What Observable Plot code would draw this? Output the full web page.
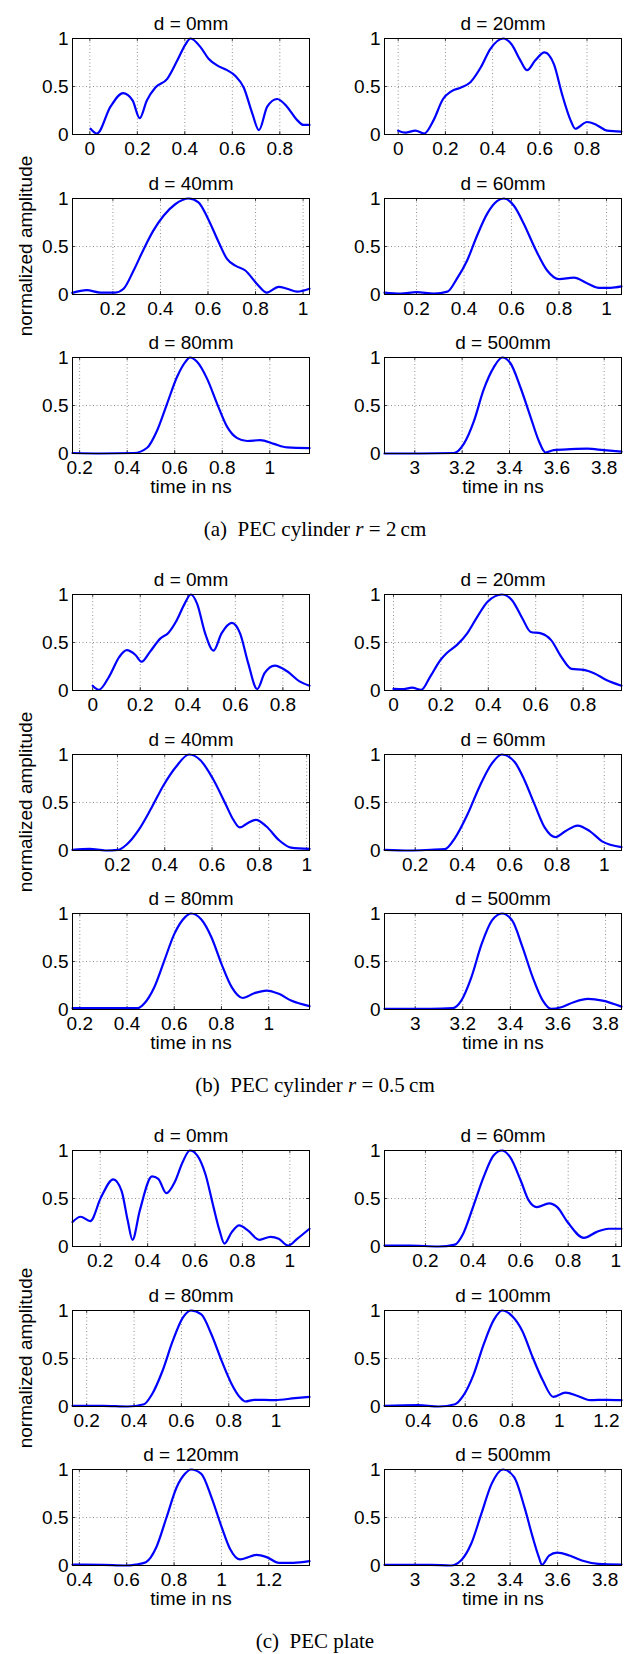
<!DOCTYPE html>
<html><head><meta charset="utf-8">
<script src="https://cdn.jsdelivr.net/npm/d3@7"></script>
<script src="https://cdn.jsdelivr.net/npm/@observablehq/plot@0.6"></script>
<style>
body{margin:0;background:#fff;}
#page{position:relative;width:642px;height:1654px;overflow:hidden;background:#fff;font-family:"Liberation Sans",Arial,Helvetica,sans-serif;color:#000;}
.panel{position:absolute;}
.ylab{position:absolute;white-space:nowrap;font-size:19px;transform:translate(-50%,-50%) rotate(-90deg);}
.cap{position:absolute;left:0;width:630px;text-align:center;font-family:"Liberation Serif","Times New Roman",serif;font-size:21px;transform:translateY(-50%);white-space:nowrap;}
</style></head><body><div id="page"></div>
<script>
// ---------- data (time in ns, normalized amplitude) ----------
const ticksFrom0  = [0, 0.2, 0.4, 0.6, 0.8];
const ticksFrom02 = [0.2, 0.4, 0.6, 0.8, 1];
const ticksFrom04 = [0.4, 0.6, 0.8, 1, 1.2];
const ticksFrom3  = [3, 3.2, 3.4, 3.6, 3.8];
const yTicks = [0, 0.5, 1];

const captions = ["(a)", "(b)", "(c)"];
const titlesA = ["d = 0mm", "d = 20mm", "d = 40mm", "d = 60mm", "d = 80mm", "d = 500mm"];
const titlesB = ["d = 0mm", "d = 20mm", "d = 40mm", "d = 60mm", "d = 80mm", "d = 500mm"];
const titlesC = ["d = 0mm", "d = 60mm", "d = 80mm", "d = 100mm", "d = 120mm", "d = 500mm"];

const domainsA = [[-0.073, 0.925], [-0.058, 0.946], [0.03, 1.027], [0.065, 1.063], [0.17, 1.167], [2.872, 3.873]];
const domainsB = [[-0.085, 0.912], [-0.038, 0.962], [0.01, 1.012], [0.07, 1.073], [0.169, 1.173], [2.871, 3.867]];
const domainsC = [[0.083, 1.083], [0.028, 1.024], [0.14, 1.141], [0.257, 1.264], [0.371, 1.372], [2.871, 3.869]];

const ticksA = [ticksFrom0, ticksFrom0, ticksFrom02, ticksFrom02, ticksFrom02, ticksFrom3];
const ticksB = [ticksFrom0, ticksFrom0, ticksFrom02, ticksFrom02, ticksFrom02, ticksFrom3];
const ticksC = [ticksFrom02, ticksFrom02, ticksFrom02, ticksFrom04, ticksFrom04, ticksFrom3];

// (a) PEC cylinder r = 2 cm
const a_d0 = [[0.003,0.06],[0.03,0.01],[0.087,0.29],[0.14,0.43],[0.18,0.355],[0.21,0.17],[0.24,0.355],[0.276,0.49],[0.326,0.58],[0.368,0.77],[0.403,0.94],[0.424,1],[0.466,0.91],[0.50,0.79],[0.536,0.72],[0.578,0.67],[0.613,0.61],[0.648,0.49],[0.684,0.22],[0.712,0.045],[0.747,0.29],[0.789,0.37],[0.83,0.29],[0.873,0.15],[0.90,0.10],[0.925,0.10]];
const a_d20 = [[0,0.04],[0.03,0.02],[0.073,0.04],[0.11,0.01],[0.15,0.15],[0.19,0.37],[0.225,0.45],[0.266,0.49],[0.306,0.545],[0.35,0.70],[0.39,0.89],[0.445,1],[0.48,0.94],[0.518,0.77],[0.546,0.67],[0.58,0.77],[0.62,0.855],[0.66,0.73],[0.694,0.42],[0.73,0.15],[0.75,0.06],[0.80,0.13],[0.84,0.10],[0.885,0.04],[0.945,0.03]];
const a_d40 = [[0.029,0.017],[0.09,0.045],[0.147,0.02],[0.21,0.02],[0.245,0.06],[0.287,0.25],[0.33,0.475],[0.37,0.665],[0.413,0.82],[0.462,0.94],[0.519,1],[0.56,0.96],[0.60,0.79],[0.645,0.545],[0.68,0.37],[0.715,0.30],[0.757,0.25],[0.806,0.11],[0.848,0.02],[0.897,0.08],[0.933,0.06],[0.975,0.03],[1.027,0.06]];
const a_d60 = [[0.065,0.02],[0.133,0.01],[0.20,0.025],[0.273,0.01],[0.33,0.03],[0.37,0.165],[0.413,0.355],[0.455,0.615],[0.497,0.84],[0.54,0.975],[0.568,1],[0.61,0.925],[0.652,0.735],[0.70,0.475],[0.75,0.25],[0.80,0.16],[0.862,0.175],[0.92,0.115],[0.968,0.07],[1.017,0.07],[1.063,0.085]];
const a_d80 = [[0.17,0.005],[0.288,0],[0.428,0.005],[0.484,0.06],[0.526,0.24],[0.568,0.52],[0.61,0.80],[0.645,0.955],[0.664,1],[0.694,0.955],[0.736,0.78],[0.778,0.52],[0.82,0.28],[0.863,0.16],[0.905,0.13],[0.96,0.14],[1.017,0.10],[1.073,0.063],[1.167,0.056]];
const a_d500 = [[2.872,0],[3.024,0],[3.165,0.005],[3.207,0.10],[3.25,0.34],[3.29,0.66],[3.334,0.90],[3.369,1],[3.404,0.94],[3.446,0.69],[3.489,0.38],[3.524,0.13],[3.552,0.01],[3.587,0.035],[3.658,0.045],[3.728,0.05],[3.799,0.035],[3.873,0.02]];

// (b) PEC cylinder r = 0.5 cm
const b_d0 = [[0,0.05],[0.026,0.007],[0.069,0.145],[0.112,0.35],[0.143,0.42],[0.18,0.37],[0.206,0.30],[0.24,0.40],[0.284,0.54],[0.318,0.60],[0.353,0.73],[0.387,0.905],[0.413,1],[0.439,0.905],[0.473,0.595],[0.508,0.415],[0.542,0.595],[0.585,0.705],[0.62,0.595],[0.654,0.285],[0.692,0.015],[0.723,0.18],[0.766,0.26],[0.818,0.20],[0.87,0.095],[0.912,0.05]];
const b_d20 = [[0,0.017],[0.043,0.014],[0.078,0.03],[0.117,0.007],[0.155,0.145],[0.199,0.32],[0.225,0.39],[0.268,0.475],[0.311,0.595],[0.354,0.77],[0.397,0.925],[0.458,1],[0.50,0.94],[0.544,0.75],[0.579,0.61],[0.622,0.595],[0.665,0.525],[0.708,0.35],[0.751,0.225],[0.803,0.215],[0.846,0.18],[0.898,0.11],[0.962,0.05]];
const b_d40 = [[0.01,0.007],[0.082,0.017],[0.15,0],[0.203,0.007],[0.238,0.06],[0.29,0.215],[0.343,0.44],[0.395,0.68],[0.447,0.87],[0.503,1],[0.551,0.94],[0.603,0.75],[0.656,0.49],[0.69,0.32],[0.717,0.24],[0.75,0.285],[0.786,0.32],[0.83,0.25],[0.882,0.11],[0.934,0.03],[1.012,0.017]];
const b_d60 = [[0.07,0.007],[0.177,0],[0.264,0.007],[0.325,0.014],[0.368,0.13],[0.42,0.37],[0.472,0.665],[0.524,0.905],[0.567,1],[0.62,0.925],[0.662,0.735],[0.706,0.475],[0.749,0.235],[0.792,0.14],[0.835,0.2],[0.887,0.26],[0.94,0.2],[0.991,0.095],[1.073,0.035]];
const b_d80 = [[0.169,0.014],[0.30,0.014],[0.446,0.014],[0.472,0.06],[0.515,0.23],[0.558,0.51],[0.60,0.785],[0.645,0.96],[0.671,1],[0.714,0.94],[0.758,0.75],[0.80,0.475],[0.844,0.23],[0.89,0.12],[0.939,0.17],[0.991,0.197],[1.043,0.163],[1.095,0.093],[1.173,0.035]];
const b_d500 = [[2.871,0.007],[3.064,0.007],[3.158,0.014],[3.193,0.09],[3.236,0.335],[3.279,0.68],[3.322,0.925],[3.365,1],[3.408,0.925],[3.451,0.65],[3.494,0.335],[3.537,0.09],[3.571,0.007],[3.614,0.024],[3.666,0.076],[3.726,0.11],[3.787,0.093],[3.867,0.03]];

// (c) PEC plate
const c_d0 = [[0.083,0.255],[0.117,0.31],[0.158,0.265],[0.203,0.51],[0.255,0.70],[0.29,0.58],[0.316,0.27],[0.336,0.07],[0.367,0.375],[0.419,0.73],[0.445,0.705],[0.479,0.555],[0.514,0.67],[0.548,0.88],[0.578,1],[0.609,0.95],[0.643,0.76],[0.678,0.41],[0.703,0.17],[0.724,0.03],[0.755,0.15],[0.786,0.22],[0.824,0.165],[0.871,0.07],[0.919,0.10],[0.953,0.08],[0.993,0.01],[1.031,0.08],[1.083,0.185]];
const c_d60 = [[0.028,0.01],[0.135,0.01],[0.255,0],[0.324,0.02],[0.358,0.13],[0.40,0.41],[0.444,0.72],[0.487,0.95],[0.522,1],[0.556,0.93],[0.60,0.69],[0.634,0.48],[0.668,0.41],[0.72,0.45],[0.754,0.41],[0.797,0.255],[0.866,0.09],[0.918,0.15],[0.969,0.185],[1.024,0.185]];
const c_d80 = [[0.14,0.007],[0.269,0.007],[0.373,0],[0.442,0.024],[0.476,0.128],[0.52,0.37],[0.563,0.68],[0.606,0.925],[0.64,1],[0.684,0.96],[0.727,0.75],[0.77,0.475],[0.813,0.23],[0.848,0.093],[0.87,0.052],[0.908,0.07],[0.995,0.066],[1.08,0.087],[1.141,0.10]];
const c_d100 = [[0.257,0.007],[0.40,0.014],[0.487,0],[0.557,0.024],[0.591,0.11],[0.635,0.33],[0.678,0.645],[0.722,0.905],[0.757,1],[0.80,0.94],[0.843,0.785],[0.887,0.51],[0.93,0.27],[0.974,0.10],[1.026,0.145],[1.078,0.11],[1.13,0.066],[1.2,0.07],[1.264,0.066]];
const c_d120 = [[0.371,0.01],[0.50,0.007],[0.595,0],[0.638,0.01],[0.681,0.035],[0.725,0.19],[0.768,0.50],[0.811,0.815],[0.846,0.955],[0.871,1],[0.915,0.955],[0.958,0.71],[1.001,0.40],[1.036,0.175],[1.079,0.063],[1.122,0.094],[1.148,0.11],[1.191,0.087],[1.243,0.028],[1.303,0.028],[1.372,0.045]];
const c_d500 = [[2.871,0.007],[3.064,0.007],[3.15,0],[3.193,0.052],[3.236,0.226],[3.279,0.54],[3.322,0.85],[3.371,1],[3.417,0.92],[3.46,0.61],[3.495,0.295],[3.521,0.087],[3.534,0.007],[3.564,0.104],[3.598,0.135],[3.65,0.104],[3.702,0.052],[3.771,0.017],[3.869,0.01]];

const seriesA = [a_d0, a_d20, a_d40, a_d60, a_d80, a_d500];
const seriesB = [b_d0, b_d20, b_d40, b_d60, b_d80, b_d500];
const seriesC = [c_d0, c_d60, c_d80, c_d100, c_d120, c_d500];
</script>
<script>
// ---------- layout & drawing ----------
const page = document.getElementById("page");
const GROUP_H = 556, FRAME_H = 96, MT = 34;
const rowFrameTop = [38, 198, 357];
const fmt = d3.format("~g");
const FONT = '"Liberation Sans", Arial, Helvetica, sans-serif';

const groups = [
  {cap: captions[0], text: 'PEC cylinder <i>r</i> = 2&#8201;cm', titles: titlesA, domains: domainsA, ticks: ticksA, series: seriesA},
  {cap: captions[1], text: 'PEC cylinder <i>r</i> = 0.5&#8201;cm', titles: titlesB, domains: domainsB, ticks: ticksB, series: seriesB},
  {cap: captions[2], text: 'PEC plate', titles: titlesC, domains: domainsC, ticks: ticksC, series: seriesC}
];

function panel(title, data, domain, ticks, row, col) {
  const isBottom = row === 2;
  const mb = isBottom ? 52 : 26;
  const ml = col === 0 ? 72 : 63;
  const mr = col === 0 ? 12 : 21;
  const [d0, d1] = domain, span = d1 - d0;
  const dotted = {stroke: "#000", strokeOpacity: 0.55, strokeDasharray: "1,2.5", strokeWidth: 0.8};
  const marks = [
    Plot.gridX({ticks, ...dotted}),
    Plot.gridY({ticks: [0.5], ...dotted}),
    Plot.ruleX(ticks, {y1: 0, y2: 0.03, stroke: "#000", strokeWidth: 0.8}),
    Plot.ruleX(ticks, {y1: 0.97, y2: 1, stroke: "#000", strokeWidth: 0.8}),
    Plot.ruleY(yTicks, {x1: d0, x2: d0 + 0.012 * span, stroke: "#000", strokeWidth: 0.8}),
    Plot.ruleY(yTicks, {x1: d1 - 0.012 * span, x2: d1, stroke: "#000", strokeWidth: 0.8}),
    Plot.line(data, {curve: "monotone-x", stroke: "#0000ff", strokeWidth: 2.2}),
    Plot.frame({stroke: "#000", strokeWidth: 1}),
    Plot.axisX({ticks, tickSize: 0, tickPadding: 7, tickFormat: fmt, label: null, fontSize: 19}),
    Plot.axisY({ticks: yTicks, tickSize: 0, tickPadding: 4, tickFormat: fmt, label: null, fontSize: 19}),
    Plot.text([title], {text: d => d, frameAnchor: "top", dy: -22, fontSize: 19})
  ];
  if (isBottom) marks.push(Plot.text(["time in ns"], {text: d => d, frameAnchor: "bottom", dy: 39, fontSize: 19}));
  return Plot.plot({
    width: 321, height: MT + FRAME_H + mb,
    marginTop: MT, marginBottom: mb, marginLeft: ml, marginRight: mr,
    x: {domain, label: null}, y: {domain: [0, 1], label: null},
    style: {fontFamily: FONT, fontSize: "19px", background: "transparent", overflow: "visible", color: "#000"},
    marks
  });
}

groups.forEach((g, gi) => {
  const top = gi * GROUP_H;
  for (let i = 0; i < 6; i++) {
    const row = Math.floor(i / 2), col = i % 2;
    const svg = panel(g.titles[i], g.series[i], g.domains[i], g.ticks[i], row, col);
    const div = document.createElement("div");
    div.className = "panel";
    div.style.left = (col * 321) + "px";
    div.style.top = (top + rowFrameTop[row] - MT) + "px";
    div.appendChild(svg);
    page.appendChild(div);
  }
  const yl = document.createElement("div");
  yl.className = "ylab";
  yl.style.left = "26px";
  yl.style.top = (top + 246) + "px";
  yl.textContent = "normalized amplitude";
  page.appendChild(yl);
  const cap = document.createElement("div");
  cap.className = "cap";
  cap.style.top = (top + 529) + "px";
  cap.innerHTML = g.cap + "&nbsp;&nbsp;" + g.text;
  page.appendChild(cap);
});
</script>
</body></html>
